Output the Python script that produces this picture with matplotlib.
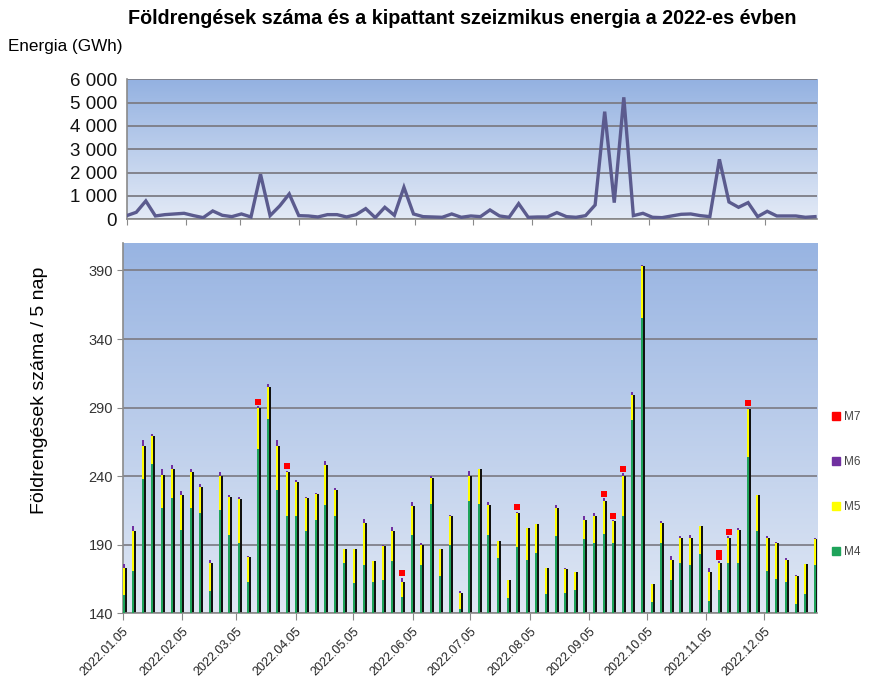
import numpy as np
import matplotlib
matplotlib.use("Agg")
import matplotlib.pyplot as plt
from matplotlib.patches import Patch
from datetime import date

plt.rcParams['font.family'] = ['Liberation Sans', 'DejaVu Sans']

# ---------------- data ----------------
title = "Földrengések száma és a kipattant szeizmikus energia a 2022-es évben"
energy_label = "Energia (GWh)"
count_label = "Földrengések száma / 5 nap"

# seismic energy per 5-day bin (GWh)
energy = [157, 300, 786, 143, 200, 229, 257, 157, 71, 357, 171, 114, 229, 100, 1929,
          157, 571, 1086, 157, 143, 100, 200, 200, 100, 200, 457, 71, 514, 171, 1371,
          229, 114, 100, 86, 229, 86, 143, 114, 400, 143, 86, 671, 86, 100, 100,
          286, 114, 86, 157, 614, 4614, 714, 5229, 157, 257, 86, 71, 143, 214, 229,
          157, 114, 2571, 743, 514, 714, 114, 343, 143, 143, 143, 86, 114]

# earthquake counts per 5-day bin by magnitude class
m4 = [153, 171, 238, 249, 217, 224, 201, 217, 213, 156, 215, 197, 191, 163, 260,
      282, 230, 211, 211, 200, 208, 219, 211, 177, 162, 175, 163, 164, 178, 152,
      197, 175, 220, 167, 190, 143, 222, 220, 197, 180, 151, 188, 179, 184, 154,
      196, 155, 157, 194, 191, 198, 191, 211, 281, 355, 148, 191, 164, 177, 175,
      183, 149, 157, 177, 177, 254, 200, 171, 165, 163, 147, 154, 175]
m5 = [20, 29, 24, 20, 24, 21, 25, 26, 19, 21, 25, 28, 32, 18, 30,
      23, 32, 32, 25, 24, 19, 29, 19, 10, 25, 31, 15, 25, 22, 11,
      21, 15, 19, 20, 21, 12, 18, 25, 22, 13, 13, 25, 23, 21, 19,
      21, 17, 13, 14, 20, 24, 16, 29, 18, 38, 13, 15, 15, 18, 20,
      21, 21, 20, 18, 24, 35, 26, 24, 26, 16, 20, 22, 19]
m6 = [3, 4, 4, 2, 4, 3, 3, 2, 2, 2, 3, 1, 2, 1, 1,
      2, 4, 1, 1, 1, 1, 3, 1, 0, 0, 3, 0, 1, 3, 3,
      3, 1, 1, 0, 1, 1, 4, 0, 2, 0, 0, 1, 0, 0, 0,
      2, 1, 0, 3, 2, 2, 1, 2, 2, 1, 0, 1, 3, 1, 2,
      0, 3, 1, 1, 1, 1, 0, 1, 1, 1, 1, 0, 1]
m7 = [0, 0, 0, 0, 0, 0, 0, 0, 0, 0, 0, 0, 0, 0, 1,
      0, 0, 1, 0, 0, 0, 0, 0, 0, 0, 0, 0, 0, 0, 1,
      0, 0, 0, 0, 0, 0, 0, 0, 0, 0, 0, 1, 0, 0, 0,
      0, 0, 0, 0, 0, 1, 1, 1, 0, 0, 0, 0, 0, 0, 0,
      0, 0, 2, 1, 0, 1, 0, 0, 0, 0, 0, 0, 0]

series_labels = ["M4", "M5", "M6", "M7"]
series_colors = ["#1ea35a", "#ffff00", "#7030a0", "#ff0000"]

tick_labels = ["2022.01.05", "2022.02.05", "2022.03.05", "2022.04.05", "2022.05.05",
               "2022.06.05", "2022.07.05", "2022.08.05", "2022.09.05", "2022.10.05",
               "2022.11.05", "2022.12.05"]
energy_ticks = [0, 1000, 2000, 3000, 4000, 5000, 6000]
count_ticks = [140, 190, 240, 290, 340, 390]
bin_days = 5

# ---------------- derived ----------------
start = date(2022, 1, 5)
tick_days = [(date(*map(int, t.split("."))) - start).days for t in tick_labels]
n = len(m4)
xd = np.arange(n) * bin_days
m4a, m5a, m6a, m7a = map(np.array, (m4, m5, m6, m7))

def gradient(ax, top, bottom):
    g = np.linspace(0, 1, 256)[:, None]
    top = np.array(matplotlib.colors.to_rgb(top))
    bottom = np.array(matplotlib.colors.to_rgb(bottom))
    img = top[None, None, :] * (1 - g[..., None]) + bottom[None, None, :] * g[..., None]
    img = np.repeat(img, 2, axis=1)
    ax.imshow(img, extent=[0, 1, 0, 1], transform=ax.transAxes,
              aspect='auto', zorder=-10, interpolation='bilinear')

W, H = 869, 682
fig = plt.figure(figsize=(W / 100, H / 100), dpi=100)

# ---------------- upper: energy ----------------
ax1 = fig.add_axes([126.7 / W, 1 - 219.3 / H, 690.6 / W, 140 / H])
gradient(ax1, "#93b1e1", "#e3eaf6")
ax1.plot(xd, energy, color="#5b5b8e", lw=2.4, zorder=3, solid_joinstyle='miter')
ax1.set_xlim(0, 361.2)
ax1.set_ylim(0, 6000)
ax1.set_yticks(energy_ticks)
ax1.set_yticklabels([f"{v:,}".replace(",", " ") for v in energy_ticks], fontsize=13.5, color="#111111")
ax1.set_xticks(tick_days)
ax1.set_xticklabels([])
ax1.yaxis.grid(True, color="#7d7d85", lw=1.3)
ax1.set_axisbelow(True)
for s in ["top", "right"]:
    ax1.spines[s].set_visible(False)
for s in ["left", "bottom"]:
    ax1.spines[s].set_color("#8a8a8a")
    ax1.spines[s].set_linewidth(1.2)
ax1.tick_params(axis='y', length=0, pad=7)
ax1.tick_params(axis='x', length=4, color="#8a8a8a", direction='out')

# ---------------- lower: counts ----------------
ax2 = fig.add_axes([122.7 / W, 1 - 613.3 / H, 694.3 / W, 370.3 / H])
gradient(ax2, "#98b4e2", "#dfe7f4")
bw = 1.1
shadow = m4a + m5a
ax2.bar(xd + 1.0, shadow, width=1.0, align='edge', color="#111111", zorder=2)
ax2.bar(xd - 0.1, m4a, width=bw, align='edge', color=series_colors[0], zorder=3, label="M4")
ax2.bar(xd - 0.1, m5a, bottom=m4a, width=bw, align='edge', color=series_colors[1], zorder=3, label="M5")
ax2.bar(xd - 0.1, m6a, bottom=m4a + m5a, width=bw, align='edge', color=series_colors[2], zorder=3, label="M6")
tops = m4a + m5a + m6a
for k in range(1, max(m7) + 1):
    sel = m7a >= k
    ax2.scatter(xd[sel] + 0.6, tops[sel] + 3.2 + 2.6 * (k - 1), marker='s', s=17,
                color=series_colors[3], zorder=4, linewidths=0)

ax2.set_xlim(0, 361.6)
ax2.set_ylim(140, 410)
ax2.set_yticks(count_ticks)
ax2.set_yticklabels([str(v) for v in count_ticks], fontsize=10.5, color="#333333")
ax2.set_xticks(tick_days)
ax2.set_xticklabels(tick_labels, rotation=45, ha='right', rotation_mode='anchor',
                    fontsize=9, color="#222222")
ax2.yaxis.grid(True, color="#80808a", lw=1.3)
ax2.set_axisbelow(True)
for s in ["top", "right"]:
    ax2.spines[s].set_visible(False)
for s in ["left", "bottom"]:
    ax2.spines[s].set_color("#8a8a8a")
    ax2.spines[s].set_linewidth(1.2)
ax2.tick_params(axis='y', length=4, color="#8a8a8a", pad=3)
ax2.tick_params(axis='x', length=5, color="#8a8a8a", pad=4)

# legend (M7 on top)
handles = [Patch(color=series_colors[i], label=series_labels[i]) for i in [3, 2, 1, 0]]
fig.legend(handles=handles, loc='upper left', bbox_to_anchor=(832 / W, 1 - 411 / H),
           frameon=False, fontsize=8.5, handlelength=0.65, handleheight=0.65,
           handletextpad=0.35, labelspacing=2.8, borderpad=0, borderaxespad=0,
           labelcolor="#444444")

# texts
fig.text(462 / W, 1 - 18 / H, title, ha='center', va='center', fontsize=14.2, fontweight='bold')
fig.text(8 / W, 1 - 47 / H, energy_label, ha='left', va='center', fontsize=12.3)
fig.text(40 / W, 1 - 390 / H, count_label, rotation=90, ha='center', va='center', fontsize=14)

fig.savefig("out.png", dpi=100)
